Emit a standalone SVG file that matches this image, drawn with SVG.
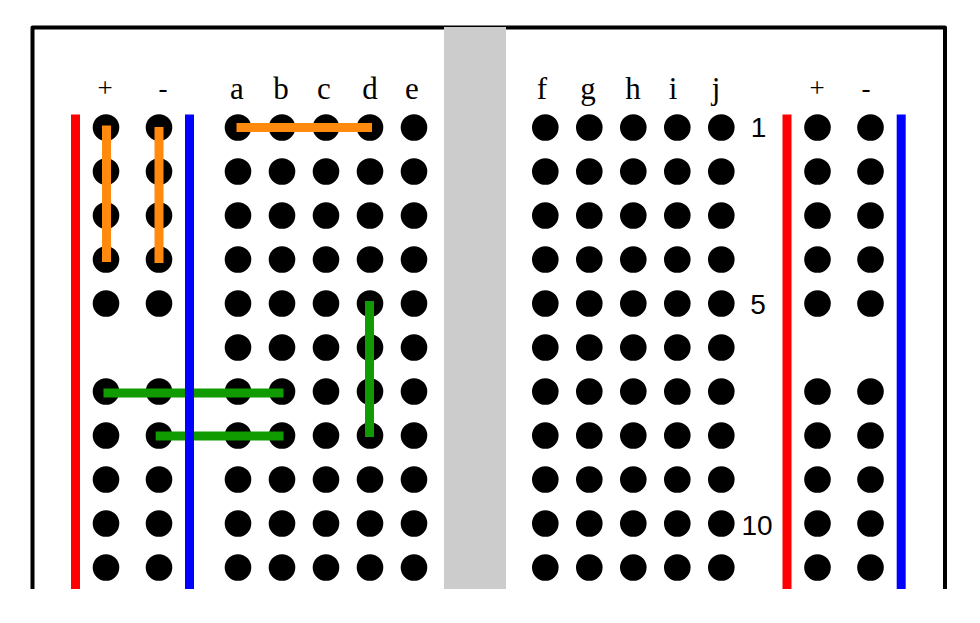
<svg xmlns="http://www.w3.org/2000/svg" width="980" height="623" viewBox="0 0 980 623">
<style>
.hole{fill:#000}
.t{font-family:"Liberation Serif",serif;font-size:31px;fill:#000;text-anchor:middle}
.s{font-family:"Liberation Serif",serif;font-size:27px;fill:#000;text-anchor:middle}
.n{font-family:"Liberation Sans",sans-serif;font-size:28px;fill:#000;text-anchor:middle}
.o{fill:#ff8a0d}.g{fill:#109c00}
</style>
<defs>
<circle id="h" class="hole" r="13.3"/>
<g id="r5"><use href="#h" x="0"/><use href="#h" x="44"/><use href="#h" x="88"/><use href="#h" x="132"/><use href="#h" x="176"/></g>
<g id="r2"><use href="#h" x="0"/><use href="#h" x="53"/></g>
</defs>
<rect width="980" height="623" fill="#fff"/>
<path id="frame" d="M32.500 589V27.500H945V589" fill="none" stroke="#000" stroke-width="4" stroke-linejoin="round"/>
<rect id="gap" x="444" y="27" width="62" height="562" fill="#ccc"/>
<g id="labels">
<text class="s" x="105" y="97">+</text><text class="s" x="163" y="97">-</text>
<text class="t" x="237" y="99">a</text><text class="t" x="281" y="99">b</text><text class="t" x="324" y="99">c</text><text class="t" x="370" y="99">d</text><text class="t" x="412" y="99">e</text>
<text class="t" x="542" y="99">f</text><text class="t" x="588" y="99">g</text><text class="t" x="633" y="99">h</text><text class="t" x="673" y="99">i</text><text class="t" x="716" y="99">j</text>
<text class="s" x="817" y="97">+</text><text class="s" x="866" y="97">-</text>
<text class="n" x="758.500" y="136.500">1</text><text class="n" x="758" y="314">5</text><text class="n" x="757" y="535">10</text>
</g>
<g id="holes-left-rail">
<use href="#r2" x="106" y="127.500"/><use href="#r2" x="106" y="171.500"/><use href="#r2" x="106" y="215.500"/><use href="#r2" x="106" y="259.500"/><use href="#r2" x="106" y="303.500"/>
<use href="#r2" x="106" y="391.500"/><use href="#r2" x="106" y="435.500"/><use href="#r2" x="106" y="479.500"/><use href="#r2" x="106" y="523.500"/><use href="#r2" x="106" y="567.500"/>
</g>
<g id="holes-a-e">
<use href="#r5" x="238" y="127.500"/><use href="#r5" x="238" y="171.500"/><use href="#r5" x="238" y="215.500"/><use href="#r5" x="238" y="259.500"/><use href="#r5" x="238" y="303.500"/><use href="#r5" x="238" y="347.500"/><use href="#r5" x="238" y="391.500"/><use href="#r5" x="238" y="435.500"/><use href="#r5" x="238" y="479.500"/><use href="#r5" x="238" y="523.500"/><use href="#r5" x="238" y="567.500"/>
</g>
<g id="holes-f-j">
<use href="#r5" x="545.300" y="127.500"/><use href="#r5" x="545.300" y="171.500"/><use href="#r5" x="545.300" y="215.500"/><use href="#r5" x="545.300" y="259.500"/><use href="#r5" x="545.300" y="303.500"/><use href="#r5" x="545.300" y="347.500"/><use href="#r5" x="545.300" y="391.500"/><use href="#r5" x="545.300" y="435.500"/><use href="#r5" x="545.300" y="479.500"/><use href="#r5" x="545.300" y="523.500"/><use href="#r5" x="545.300" y="567.500"/>
</g>
<g id="holes-right-rail">
<use href="#r2" x="817.500" y="127.500"/><use href="#r2" x="817.500" y="171.500"/><use href="#r2" x="817.500" y="215.500"/><use href="#r2" x="817.500" y="259.500"/><use href="#r2" x="817.500" y="303.500"/>
<use href="#r2" x="817.500" y="391.500"/><use href="#r2" x="817.500" y="435.500"/><use href="#r2" x="817.500" y="479.500"/><use href="#r2" x="817.500" y="523.500"/><use href="#r2" x="817.500" y="567.500"/>
</g>
<g id="wires">
<rect class="o" x="102" y="125.500" width="9" height="136.500"/>
<rect class="o" x="154.500" y="127" width="9" height="136"/>
<rect class="o" x="236.500" y="123" width="135.500" height="9"/>
<rect class="g" x="103.500" y="388.500" width="180" height="9"/>
<rect class="g" x="155.700" y="431.500" width="127.800" height="9"/>
<rect class="g" x="365" y="301" width="9" height="136"/>
</g>
<g id="rails">
<rect x="71" y="114.500" width="9" height="474.500" fill="#f00"/>
<rect x="185" y="114.500" width="9" height="474.500" fill="#00f"/>
<rect x="782.500" y="114.500" width="9" height="474.500" fill="#f00"/>
<rect x="896.700" y="114.500" width="9" height="474.500" fill="#00f"/>
</g>
</svg>
